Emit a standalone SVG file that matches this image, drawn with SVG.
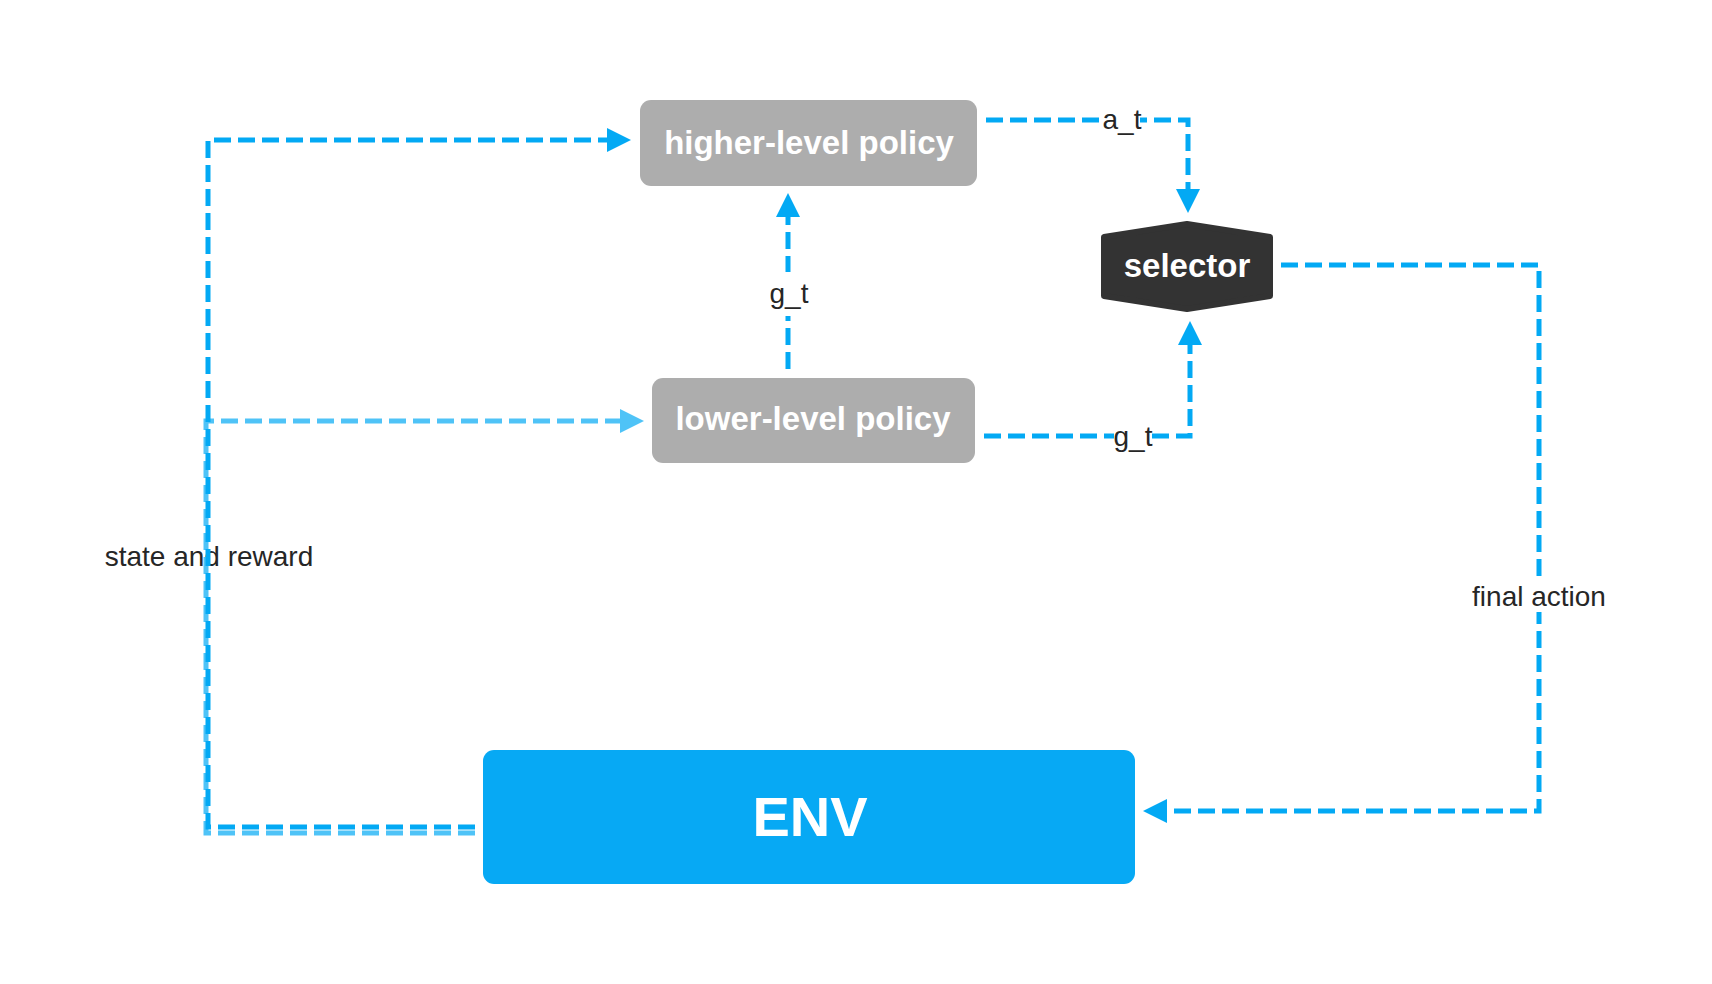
<svg xmlns="http://www.w3.org/2000/svg" width="1712" height="984" viewBox="0 0 1712 984">
<style>
.node-text{font-family:"Liberation Sans",Arial,sans-serif;font-weight:bold;fill:#ffffff;text-anchor:middle}
.lbl{font-family:"Liberation Sans",Arial,sans-serif;font-size:28px;fill:#262626;text-anchor:middle}
.conn{fill:none;stroke:#03A9F4;stroke-width:5;stroke-dasharray:17 7}
.conn-light{fill:none;stroke:#4FC3F7;stroke-width:5;stroke-dasharray:17 7}
.bg{fill:#ffffff}
</style>
<defs>
<marker id="arr" markerUnits="userSpaceOnUse" markerWidth="24" markerHeight="24" refX="0" refY="12" orient="auto" viewBox="0 0 24 24">
<path d="M0,0 L24,12 L0,24 Z" fill="#03A9F4"/>
</marker>
<marker id="arrL" markerUnits="userSpaceOnUse" markerWidth="24" markerHeight="24" refX="0" refY="12" orient="auto" viewBox="0 0 24 24">
<path d="M0,0 L24,12 L0,24 Z" fill="#4FC3F7"/>
</marker>
</defs>
<rect width="1712" height="984" fill="#ffffff"/>
<g id="connectors">
<text class="lbl" x="209" y="566" font-size="29">state and reward</text>
<path class="conn-light" d="M475 833 H206 V421 H620" marker-end="url(#arrL)"/>
<path class="conn" d="M475 827 H208 V140 H607" marker-end="url(#arr)"/>
<path class="conn" d="M986 120 H1188 V189" marker-end="url(#arr)"/>
<rect class="bg" x="1104" y="108" width="36" height="26"/>
<text class="lbl" x="1122" y="129">a_t</text>
<path class="conn" d="M788 369 V217" marker-end="url(#arr)"/>
<rect class="bg" x="770" y="272" width="38" height="44"/>
<text class="lbl" x="789" y="303">g_t</text>
<path class="conn" d="M984 436 H1190 V345" marker-end="url(#arr)"/>
<rect class="bg" x="1114" y="426" width="38" height="28"/>
<text class="lbl" x="1133" y="446">g_t</text>
<path class="conn" d="M1281 265 H1539 V811 H1167" marker-end="url(#arr)"/>
<rect class="bg" x="1466" y="577" width="146" height="35"/>
<text class="lbl" x="1539" y="606" font-size="29">final action</text>
</g>
<g id="higher-level-policy">
<rect x="640" y="100" width="337" height="86" rx="11" fill="#ADADAD"/>
<text class="node-text" x="809" y="154" font-size="33">higher-level policy</text>
</g>
<g id="lower-level-policy">
<rect x="652" y="378" width="323" height="85" rx="11" fill="#ADADAD"/>
<text class="node-text" x="813" y="430" font-size="33">lower-level policy</text>
</g>
<g id="selector">
<path d="M1104 237 L1187 224 L1270 237 L1270 296 L1187 309 L1104 296 Z" fill="#333333" stroke="#333333" stroke-width="6" stroke-linejoin="round"/>
<text class="node-text" x="1187" y="277" font-size="33">selector</text>
</g>
<g id="env">
<rect x="483" y="750" width="652" height="134" rx="11" fill="#07A9F4"/>
<text class="node-text" x="810" y="836" font-size="56">ENV</text>
</g>
</svg>
